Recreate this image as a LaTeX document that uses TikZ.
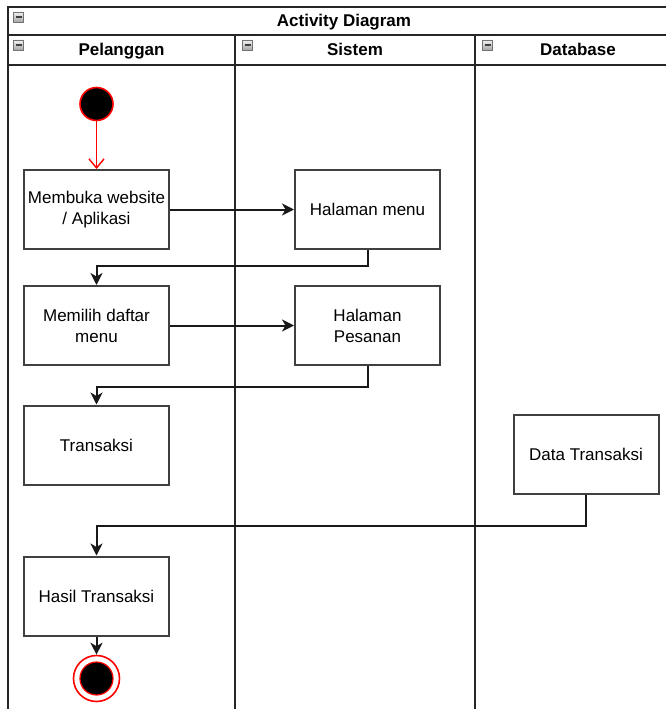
\documentclass[tikz,border=0pt]{standalone}
\usepackage{fontspec}
\setmainfont{Liberation Sans}
\usetikzlibrary{arrows.meta}
\begin{document}
\begin{tikzpicture}[x=1pt,y=-1pt,
  frameline/.style={draw=black!85, line width=2pt},
  actbox/.style={draw=black!75, line width=2pt, fill=white, minimum width=145pt, minimum height=79pt, inner sep=0pt, align=center, font=\fontsize{17}{21}\selectfont},
  headtxt/.style={inner sep=0pt, anchor=base, font=\bfseries\fontsize{17}{21}\selectfont},
  iconbox/.style={draw=black!55, top color=black!5, bottom color=black!35, minimum size=10pt, inner sep=0pt, line width=0.7pt,
     path picture={\draw[black!75, line width=1.5pt] ([xshift=-3pt]path picture bounding box.center) -- ([xshift=3pt]path picture bounding box.center);}},
  flow/.style={draw=black!90, line width=2pt, -{Stealth[length=12pt,width=12pt,inset=3.5pt]}},
  startflow/.style={draw=red, line width=1.4pt, -{Straight Barb[length=9pt,width=15pt]}},
  startnode/.style={circle, draw=red, fill=black, line width=1.6pt, minimum size=33pt, inner sep=0pt},
  endouter/.style={circle, draw=red, fill=white, line width=1.6pt, minimum size=46pt, inner sep=0pt},
  endinner/.style={circle, draw=red, fill=black, line width=1.2pt, minimum size=33pt, inner sep=0pt}]
\clip (0,0) rectangle (666,709);
\fill[white] (0,0) rectangle (666,709);
% frame and lanes
\draw[frameline] (8,7) rectangle (681,740);
\draw[frameline] (8,35) -- (681,35);
\draw[frameline] (8,65) -- (681,65);
\draw[frameline] (235,35) -- (235,740);
\draw[frameline] (475,35) -- (475,740);
% headers
\node[iconbox] (ic0) at (18.5,17) {};
\node[iconbox] (ic1) at (18.5,45) {};
\node[iconbox] (ic2) at (247.5,45) {};
\node[iconbox] (ic3) at (487.5,45) {};
\node[headtxt] (title) at (344,26.5) {Activity Diagram};
\node[headtxt] (lane1) at (121.5,55.5) {Pelanggan};
\node[headtxt] (lane2) at (355,55.5) {Sistem};
\node[headtxt] (lane3) at (578,55.5) {Database};
% nodes
\node[startnode] (start) at (96.5,104) {};
\node[actbox] (b1) at (96.5,209.5) {Membuka website\\/ Aplikasi};
\node[actbox] (hm) at (367.5,209.5) {Halaman menu};
\node[actbox] (b2) at (96.5,325.5) {Memilih daftar\\menu};
\node[actbox] (hp) at (367.5,325.5) {Halaman\\Pesanan};
\node[actbox] (b3) at (96.5,445) {Transaksi};
\node[actbox] (dt) at (586,454) {Data Transaksi};
\node[actbox] (b4) at (96.5,596) {Hasil Transaksi};
\node[endouter] (endn) at (96.5,678.5) {};
\node[endinner] (endin) at (96.5,678.5) {};
% connectors
\draw[startflow] (start) -- (b1);
\draw[flow] (b1) -- (hm);
\draw[flow] (hm.south) -- ++(0,16) -| (b2.north);
\draw[flow] (b2) -- (hp);
\draw[flow] (hp.south) -- ++(0,21) -| (b3.north);
\draw[flow] (dt.south) -- ++(0,31) -| (b4.north);
\draw[flow] (b4) -- (endn);
\end{tikzpicture}
\end{document}
